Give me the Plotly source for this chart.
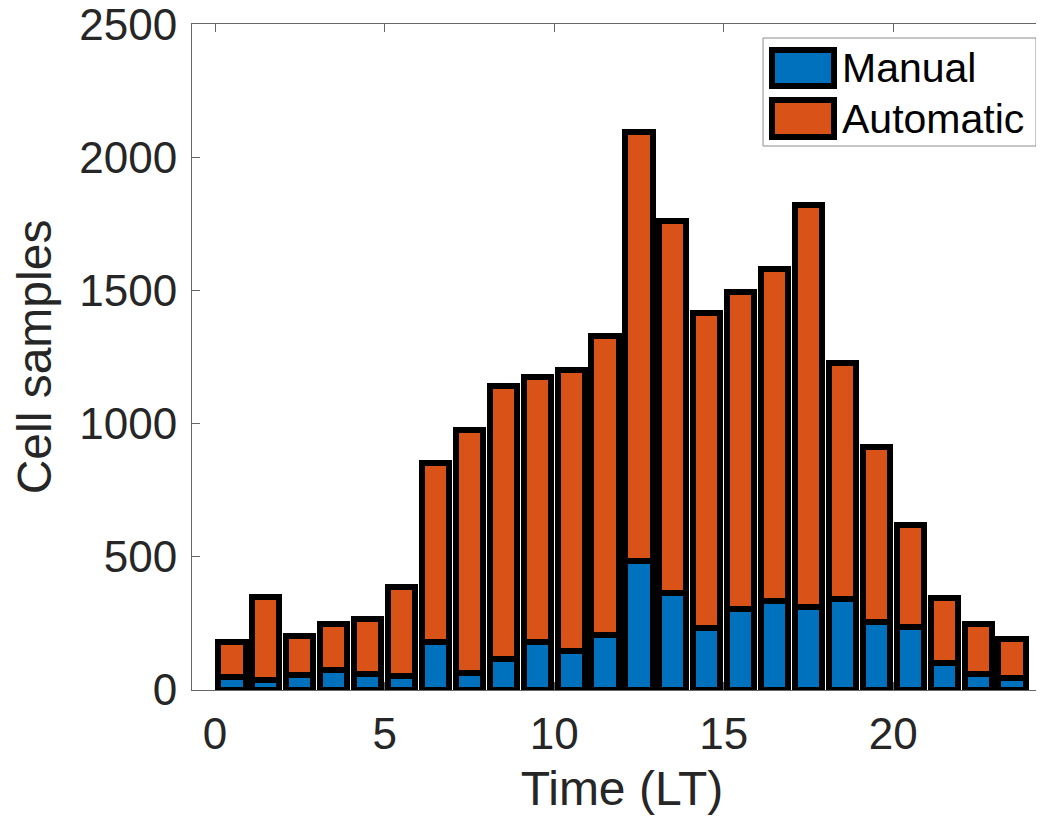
import plotly.graph_objects as go

# Data
hours = [i + 0.5 for i in range(24)]
manual = [49, 36, 56, 74, 59, 51, 179, 64, 116, 179, 145, 208,
          486, 366, 231, 306, 336, 310, 340, 254, 236, 101, 60, 44]
total = [179, 348, 201, 246, 265, 386, 851, 977, 1143, 1176, 1203, 1330,
         2095, 1761, 1416, 1494, 1580, 1821, 1229, 911, 618, 344, 246, 190]
automatic = [t - m for t, m in zip(total, manual)]
series_names = ["Manual", "Automatic"]
x_ticks = [0, 5, 10, 15, 20]
y_ticks = [0, 500, 1000, 1500, 2000, 2500]

BLUE = "#0072BD"
ORANGE = "#D95319"
TEXT = "#262626"
AXIS = "#666666"

OFF = 8  # page body margin offset
W, H = 1044, 819
L, R, T, B = 192 - OFF, 0, 24 - OFF, H - (690 - OFF)
PW, PH = W - L - R, H - T - B

fig = go.Figure()
for name, vals, col in [(series_names[0], manual, BLUE), (series_names[1], automatic, ORANGE)]:
    fig.add_trace(go.Bar(
        x=hours, y=vals, name=name, width=0.8,
        marker=dict(color=col, line=dict(color="black", width=6)),
        showlegend=False,
    ))

fig.update_layout(
    width=W, height=H,
    margin=dict(l=L, r=R, t=T, b=B, pad=0),
    barmode="stack",
    plot_bgcolor="white", paper_bgcolor="white",
    font=dict(family="Liberation Sans, Arial, Helvetica, sans-serif", color=TEXT),
    xaxis=dict(
        range=[-0.68, 24.68], tickvals=x_ticks, ticks="inside", ticklen=8,
        tickcolor=AXIS, showline=True, linecolor=AXIS, linewidth=1,
        mirror="ticks", showgrid=False, zeroline=False, automargin=False,
        tickfont=dict(size=44, color=TEXT), ticklabelstandoff=5,
        ticklabeloverflow="allow",
        title=dict(text="Time (LT)", font=dict(size=48, color=TEXT), standoff=14),
        layer="below traces",
    ),
    yaxis=dict(
        range=[0, 2500.5], tickvals=y_ticks, ticks="inside", ticklen=8,
        tickcolor=AXIS, showline=True, linecolor=AXIS, linewidth=1,
        mirror=False, showgrid=False, zeroline=False, automargin=False,
        tickfont=dict(size=44, color=TEXT), ticklabelstandoff=5,
        ticklabeloverflow="allow",
        title=dict(text="Cell samples", font=dict(size=48, color=TEXT), standoff=34),
        layer="below traces",
    ),
)


def px_x(p):
    return (p - OFF - L) / PW


def px_y(p):
    return (H - B - (p - OFF)) / PH


# Legend drawn as box + patches + text
fig.add_shape(type="rect", xref="paper", yref="paper",
              x0=px_x(763), x1=px_x(1036), y0=px_y(146), y1=px_y(38),
              line=dict(color="#8c8c8c", width=1), fillcolor="white", layer="above")
for (y0, y1, col, name, yc) in [(86, 50, BLUE, series_names[0], 68),
                                (137, 100, ORANGE, series_names[1], 119)]:
    fig.add_shape(type="rect", xref="paper", yref="paper",
                  x0=px_x(772), x1=px_x(834), y0=px_y(y0), y1=px_y(y1),
                  line=dict(color="black", width=6), fillcolor=col, layer="above")
    fig.add_annotation(xref="paper", yref="paper", x=px_x(840), y=px_y(yc),
                       text=name, showarrow=False, xanchor="left", yanchor="middle",
                       font=dict(size=41, color="black"))

fig.write_html("out.html")
